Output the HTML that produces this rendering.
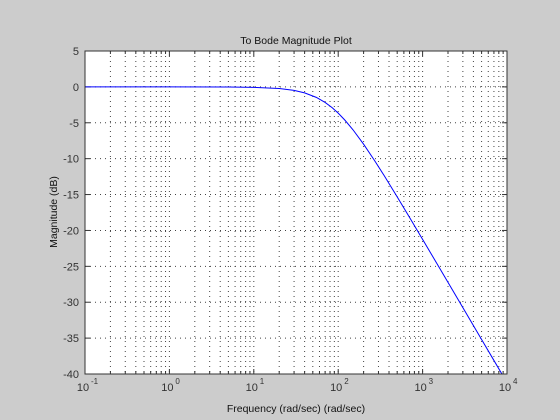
<!DOCTYPE html>
<html><head><meta charset="utf-8"><style>
body{margin:0;background:#cccccc;}
svg{display:block;font-family:"Liberation Sans",sans-serif;}
</style></head><body>
<svg id="chart" width="560" height="420" viewBox="0 0 560 420" xmlns="http://www.w3.org/2000/svg">
<defs><clipPath id="clip"><rect x="85" y="51" width="422" height="323"/></clipPath></defs>
<rect width="560" height="420" fill="#cccccc"/>
<rect x="85" y="51" width="422" height="323" fill="#fff"/>
<g id="grid"></g>
<g id="ticks"></g>
<g id="series" clip-path="url(#clip)"></g>
<rect x="85" y="51" width="422" height="323" fill="none" stroke="#333" stroke-width="1"/>
<text x="296" y="44" font-size="10.5" text-anchor="middle" fill="#111">To Bode Magnitude Plot</text>
<text x="296" y="412" font-size="10.5" text-anchor="middle" fill="#111">Frequency (rad/sec)  (rad/sec)</text>
<text transform="translate(57,212) rotate(-90)" font-size="10.5" text-anchor="middle" fill="#111">Magnitude (dB)</text>
</svg>
<script>
const freqs=[0.1,1,5,10,20,30,40,55,70,85,100,120,150,200,270,350,500,700,1000,1500,2000,3000,5000,7000,10000];
const magDb=[0,0,-0.01,-0.06,-0.22,-0.49,-0.83,-1.46,-2.17,-2.91,-3.66,-4.63,-5.99,-7.98,-10.27,-12.35,-15.32,-18.18,-21.24,-24.75,-27.24,-30.76,-35.19,-38.11,-41.21];
const yTicks=[5,0,-5,-10,-15,-20,-25,-30,-35,-40];
const xDecades=[-1,0,1,2,3,4];
const L=85,R=507,T=51,B=374;
const xs=w=>L+(Math.log10(w)+1)/5*(R-L);
const ys=v=>T+(5-v)/45*(B-T);
const NS="http://www.w3.org/2000/svg";
function mk(tag,attrs,parent){const e=document.createElementNS(NS,tag);for(const k in attrs)e.setAttribute(k,attrs[k]);document.getElementById(parent).appendChild(e);return e;}
for(let d=-1;d<4;d++){for(let m=1;m<=9;m++){const w=m*Math.pow(10,d);const x=xs(w);
 if(x>L+0.5){const g=mk('line',{x1:x,x2:x,y1:T,y2:B,stroke:'#444','stroke-width':1,'stroke-dasharray':'1 4'},'grid');
 
 }
 const tl=m===1?5:3;
 const t1=mk('line',{x1:x,x2:x,y1:B,y2:B-tl,stroke:'#333'},'ticks');
 
 
 const t2=mk('line',{x1:x,x2:x,y1:T,y2:T+tl,stroke:'#333'},'ticks');
 
 }}
yTicks.forEach(v=>{const y=ys(v);
 if(v<5&&v>-40){const g=mk('line',{x1:L,x2:R,y1:y,y2:y,stroke:'#444','stroke-width':1,'stroke-dasharray':'1 4'},'grid');
 
 }
 const t1=mk('line',{x1:L,x2:L+5,y1:y,y2:y,stroke:'#333'},'ticks');
 
 
 const t2=mk('line',{x1:R,x2:R-5,y1:y,y2:y,stroke:'#333'},'ticks');
 
 
 const lb=mk('text',{x:L-6,y:y+4,'font-size':11,'text-anchor':'end',fill:'#333'},'ticks');
 lb.textContent=String(v);
 
 });
xDecades.forEach(d=>{const x=xs(Math.pow(10,d));
 const lb=mk('text',{x:x-2,y:B+17,'font-size':11,'text-anchor':'middle',fill:'#333'},'ticks');
 lb.textContent='10';
 
 
 const ex=mk('text',{x:x+6,y:B+10,'font-size':8,'text-anchor':'start',fill:'#333'},'ticks');
 ex.textContent=String(d);
 
 });
const p=mk('polyline',{points:freqs.map((w,i)=>xs(w)+','+ys(magDb[i])).join(' '),fill:'none',stroke:'#0000ff','stroke-width':1},'series');


</script>
</body></html>
